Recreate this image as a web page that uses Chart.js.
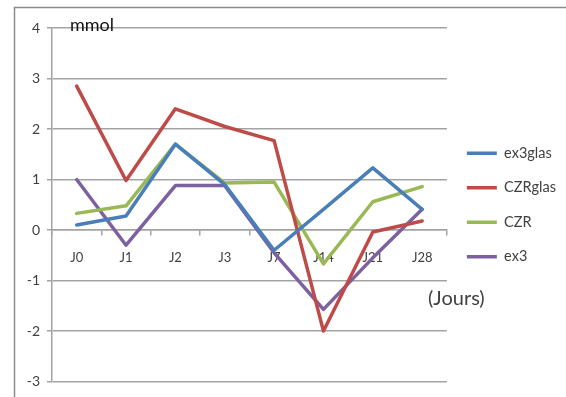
<!DOCTYPE html>
<html>
<head>
<meta charset="utf-8">
<script src="https://cdn.jsdelivr.net/npm/chart.js@4"></script>
<style>
  html, body { margin: 0; padding: 0; background: #fff; }
  #wrap { position: relative; width: 566px; height: 397px; }
</style>
</head>
<body>
<div id="wrap"><canvas id="chart" width="566" height="397"></canvas></div>
<script>
const DAYS = ["J0", "J1", "J2", "J3", "J7", "J14", "J21", "J28"];
const EX3GLAS = [0.1, 0.28, 1.7, 0.9, -0.4, 0.41, 1.23, 0.41];
const CZRGLAS = [2.85, 0.98, 2.4, 2.05, 1.77, -2.0, -0.04, 0.18];
const CZR = [0.33, 0.48, 1.7, 0.93, 0.95, -0.67, 0.56, 0.86];
const EX3 = [1.0, -0.3, 0.88, 0.88, -0.45, -1.57, -0.55, 0.41];
const Y_MIN = -3, Y_MAX = 4;

const GRID = "#a3a3a3";
const TEXT = "#404040";
const FONT = "Lato, 'Open Sans', sans-serif";

function series(label, data, color) {
  return {
    label, data,
    borderColor: color, backgroundColor: color,
    borderWidth: 3.5, pointRadius: 0, tension: 0,
    borderJoinStyle: "round", borderCapStyle: "round",
  };
}

/* frame + free text labels */
const decor = {
  id: "decor",
  beforeDraw(chart) {
    const ctx = chart.ctx;
    ctx.save();
    ctx.strokeStyle = "#8c8c8c";
    ctx.lineWidth = 1.5;
    ctx.beginPath();
    ctx.moveTo(14.5, 397);
    ctx.lineTo(14.5, 7.5);
    ctx.lineTo(566, 7.5);
    ctx.stroke();
    ctx.restore();
  },
  afterDraw(chart) {
    const ctx = chart.ctx;
    ctx.save();
    ctx.fillStyle = "#111";
    ctx.textBaseline = "middle";
    ctx.font = "18px " + FONT;
    ctx.fillText("mmol", 70, 25);
    ctx.fillStyle = TEXT;
    ctx.font = "20px " + FONT;
    ctx.fillText("(Jours)", 428, 299);
    ctx.restore();
  },
};

new Chart(document.getElementById("chart"), {
  type: "line",
  data: {
    labels: DAYS,
    datasets: [
      series("ex3glas", EX3GLAS, "#4a7ebb"),
      series("CZRglas", CZRGLAS, "#be4b48"),
      series("CZR", CZR, "#98b954"),
      series("ex3", EX3, "#7d60a0"),
    ],
  },
  options: {
    responsive: false,
    animation: false,
    layout: { padding: { left: 0, top: 28, right: 0, bottom: 15 } },
    plugins: {
      legend: {
        position: "right",
        labels: {
          usePointStyle: true,
          pointStyle: "line",
          pointStyleWidth: 30,
          boxHeight: 12,
          padding: 20,
          color: TEXT,
          font: { family: FONT, size: 14.5 },
        },
      },
      tooltip: { enabled: false },
    },
    scales: {
      x: {
        position: { y: 0 },
        offset: true,
        grid: { offset: true, drawOnChartArea: false, drawTicks: true, tickLength: 5, color: GRID, lineWidth: 1.5 },
        border: { color: GRID, width: 1.5 },
        ticks: { color: TEXT, font: { family: FONT, size: 13 }, padding: 15, maxRotation: 0 },
      },
      y: {
        min: Y_MIN, max: Y_MAX,
        afterFit(scale) { scale.width = 52; },
        grid: { color: GRID, lineWidth: 1.5, tickLength: 5 },
        border: { color: GRID, width: 1.5 },
        ticks: { stepSize: 1, color: TEXT, font: { family: FONT, size: 14 }, padding: 7 },
      },
    },
  },
  plugins: [decor],
});
</script>
</body>
</html>
